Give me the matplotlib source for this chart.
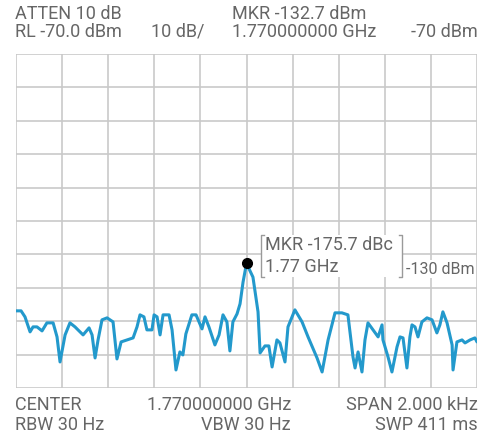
import matplotlib
matplotlib.use("Agg")
import matplotlib.pyplot as plt
from matplotlib.lines import Line2D
from matplotlib.patches import Rectangle

# Spectrum trace: offset from centre frequency (Hz) and level (dBm)
freq_offset_hz = [
    -1000, -978, -961, -939, -926, -909, -887, -866, -839, -822, -809, -787,
    -766, -744, -731, -709, -683, -670, -657, -644, -627, -605, -579, -562,
    -544, -518, -492, -475, -462, -445, -432, -410, -401, -388, -375, -362,
    -336, -323, -306, -289, -276, -263, -237, -219, -193, -180, -163, -137,
    -119, -102, -85, -72, -59, -41, -28, -15, 0, 28, 50, 59, 80, 97, 111,
    132, 145, 167, 180, 210, 241, 267, 306, 328, 354, 384, 414, 440, 462,
    471, 484, 501, 514, 527, 549, 571, 588, 592, 614, 631, 653, 666, 679,
    696, 709, 718, 731, 744, 761, 783, 805, 826, 839, 852, 870, 892, 896,
    913, 935, 948, 970, 991, 1000,
]
level_dbm = [
    -146.9, -146.9, -148.7, -153.2, -151.7, -151.7, -152.9, -150.5, -150.5,
    -154.7, -162.2, -154.1, -150.5, -151.7, -152.6, -154.1, -152.0, -154.1,
    -161.0, -155.6, -149.6, -149.0, -150.2, -161.3, -156.2, -155.6, -155.0,
    -151.7, -148.1, -148.7, -152.6, -152.6, -148.1, -148.7, -154.1, -148.1,
    -148.1, -152.6, -164.6, -159.2, -160.1, -153.8, -148.1, -148.1, -152.3,
    -148.7, -151.7, -157.1, -154.1, -148.1, -150.2, -158.9, -150.2, -147.8,
    -144.8, -138.3, -132.7, -136.8, -147.2, -159.5, -157.4, -157.4, -163.7,
    -155.6, -156.5, -162.2, -151.7, -146.6, -150.2, -154.7, -161.0, -165.2,
    -155.6, -147.5, -147.5, -148.1, -160.7, -164.0, -159.2, -165.2, -155.6,
    -150.5, -152.6, -154.7, -151.1, -155.6, -160.7, -165.2, -157.7, -154.7,
    -155.0, -164.0, -154.7, -151.1, -151.7, -154.7, -150.2, -149.0, -149.6,
    -153.5, -151.1, -147.2, -150.5, -157.1, -164.6, -156.2, -155.6, -156.5,
    -155.6, -155.0, -156.2,
]

# Marker reading
marker_offset_hz = 0
marker_dbm = -132.7

# Display settings
ref_level = -70.0
db_per_div = 10
span_hz = 2000

header_left = ["ATTEN 10 dB", "RL -70.0 dBm"]
header_scale = "10 dB/"
header_marker = ["MKR -132.7 dBm", "1.770000000 GHz"]
header_right = "-70 dBm"
footer_left = ["CENTER", "RBW 30 Hz"]
footer_mid = ["1.770000000 GHz", "VBW 30 Hz"]
footer_right = ["SPAN 2.000 kHz", "SWP 411 ms"]
box_lines = ["MKR -175.7 dBc", "1.77 GHz"]
box_side = "-130 dBm"

W, H = 494, 436
fig = plt.figure(figsize=(W / 100, H / 100), dpi=100)
fig.patch.set_facecolor("white")

left, right, top, bottom = 16, 477, 54, 388
ax = fig.add_axes([left / W, 1 - bottom / H, (right - left) / W, (bottom - top) / H])
ax.set_xlim(-span_hz / 2, span_hz / 2)
ax.set_ylim(ref_level - 10 * db_per_div, ref_level)

grid_color = "#c9c9c9"
for i in range(11):
    x = -span_hz / 2 + i * span_hz / 10
    ax.axvline(x, color=grid_color, lw=1.2, zorder=1)
    y = ref_level - i * db_per_div
    ax.axhline(y, color=grid_color, lw=1.2, zorder=1)
ax.set_xticks([])
ax.set_yticks([])
for s in ax.spines.values():
    s.set_visible(False)

ax.plot(freq_offset_hz, level_dbm, color="#2399cc", lw=2.2, zorder=3,
        solid_joinstyle="round", solid_capstyle="round")
ax.plot([marker_offset_hz], [marker_dbm], "o", color="black", ms=7, zorder=5)

text_color = "#666666"
font = "Roboto"
fs = 13


def px(x, y):
    return x / W, 1 - y / H


def ftext(x, y, s, ha="left", size=fs):
    fig.text(*px(x, y), s, ha=ha, va="center", color=text_color,
             fontsize=size, family=font, zorder=6)


ftext(15, 14, header_left[0])
ftext(15, 32, header_left[1])
ftext(151, 32, header_scale)
ftext(232, 14, header_marker[0])
ftext(232, 32, header_marker[1])
ftext(478, 32, header_right, ha="right")

ftext(15, 405, footer_left[0])
ftext(15, 425, footer_left[1])
ftext(291, 405, footer_mid[0], ha="right")
ftext(291, 425, footer_mid[1], ha="right")
ftext(478, 405, footer_right[0], ha="right")
ftext(478, 425, footer_right[1], ha="right")

# Marker readout box with bracket edges
bx0, bx1, by0, by1 = 261, 402, 235, 277
fig.patches.append(Rectangle(px(bx0, by1), (bx1 - bx0) / W, (by1 - by0) / H,
                             transform=fig.transFigure, facecolor="white",
                             edgecolor="none", zorder=4))
fig.patches.append(Rectangle(px(405, 278), (476 - 405) / W, (278 - 260) / H,
                             transform=fig.transFigure, facecolor="white",
                             edgecolor="none", zorder=4))
bracket_color = "#9a9a9a"
for xs, ys in [
    ([bx0 + 3, bx0, bx0, bx0 + 3], [by0, by0, by1, by1]),
    ([bx1 - 3, bx1, bx1, bx1 - 3], [by0, by0, by1, by1]),
]:
    fx = [x / W for x in xs]
    fy = [1 - y / H for y in ys]
    fig.add_artist(Line2D(fx, fy, transform=fig.transFigure, color=bracket_color,
                          lw=1.0, zorder=5))

ftext(265, 245, box_lines[0])
ftext(265, 267, box_lines[1])
ftext(406, 269, box_side, size=11.5)

fig.savefig("out.png", dpi=100, facecolor="white")
